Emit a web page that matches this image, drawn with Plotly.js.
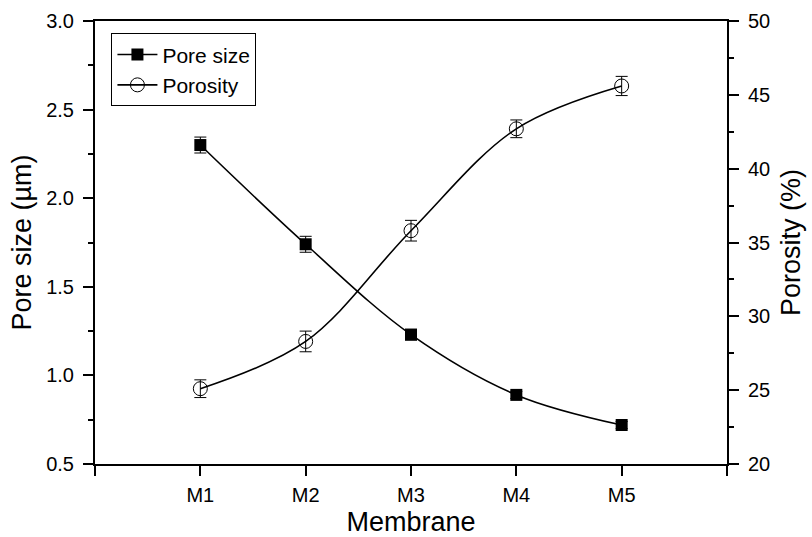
<!DOCTYPE html>
<html><head><meta charset="utf-8">
<script src="https://cdn.plot.ly/plotly-3.0.1.min.js"></script>
<style>body{margin:0;background:#fff}#c{width:812px;height:537px}</style>
</head><body><div id="c"></div>
<script>
const categories = ['M1','M2','M3','M4','M5'];
const catPos = [1,2,3,4,5];
const poreSize = [2.30, 1.74, 1.23, 0.89, 0.72];
const poreErr = [0.045, 0.045, 0.03, 0.02, 0.02];
const porosity = [25.1, 28.3, 35.8, 42.7, 45.6];
const porosityErr = [0.6, 0.7, 0.7, 0.6, 0.65];

const F = 'Liberation Sans, Arial, sans-serif';
const TF = {family: F, size: 20, color: '#000'};
const traces = [
  {x: catPos, y: poreSize, name: 'Pore size', type: 'scatter', mode: 'lines+markers',
   line: {color: '#000', width: 1.6, shape: 'spline', smoothing: 1},
   marker: {symbol: 'square', size: 12, color: '#000'},
   error_y: {type: 'data', array: poreErr, visible: true, color: '#000', thickness: 1, width: 6}},
  {x: catPos, y: porosity, name: 'Porosity', type: 'scatter', mode: 'lines+markers', yaxis: 'y2',
   line: {color: '#000', width: 1.6, shape: 'spline', smoothing: 1},
   marker: {symbol: 'circle-open', size: 14, color: '#000', line: {width: 1, color: '#000'}},
   error_y: {type: 'data', array: porosityErr, visible: true, color: '#000', thickness: 1, width: 6}}
];
const layout = {
  width: 812, height: 537,
  margin: {l: 95, r: 85, t: 21, b: 73},
  paper_bgcolor: '#fff', plot_bgcolor: '#fff',
  font: {family: F, size: 20, color: '#000'},
  showlegend: true,
  legend: {x: 0.026, y: 0.972, xanchor: 'left', yanchor: 'top', bordercolor: '#000', borderwidth: 1,
           bgcolor: '#fff', font: {family: F, size: 21}, tracegroupgap: 0, itemwidth: 40},
  xaxis: {range: [0, 6], tickvals: [0, 1, 2, 3, 4, 5, 6], ticktext: [''].concat(categories, ['']),
          showgrid: false, zeroline: false, showline: true, linecolor: '#000', linewidth: 2, mirror: true,
          ticks: 'outside', ticklen: 10, tickwidth: 2, tickcolor: '#000', tickfont: TF, ticklabelstandoff: 2,
          title: {text: 'Membrane', font: {family: F, size: 27}, standoff: 11}},
  yaxis: {range: [0.5, 3.0], dtick: 0.5, tickformat: '.1f',
          showgrid: false, zeroline: false, showline: true, linecolor: '#000', linewidth: 2,
          ticks: 'outside', ticklen: 10, tickwidth: 2, tickcolor: '#000', tickfont: TF, ticklabelstandoff: 5,
          minor: {ticks: 'outside', ticklen: 5, tickwidth: 2, tickcolor: '#000', dtick: 0.25},
          title: {text: 'Pore size (µm)', font: {family: F, size: 27}, standoff: 7}},
  yaxis2: {range: [20, 50], dtick: 5, overlaying: 'y', side: 'right',
          showgrid: false, zeroline: false, showline: true, linecolor: '#000', linewidth: 2,
          ticks: 'outside', ticklen: 10, tickwidth: 2, tickcolor: '#000', tickfont: TF, ticklabelstandoff: 5,
          minor: {ticks: 'outside', ticklen: 5, tickwidth: 2, tickcolor: '#000', dtick: 2.5},
          title: {text: 'Porosity (%)', font: {family: F, size: 27}, standoff: 12}}
};
Plotly.newPlot('c', traces, layout, {displayModeBar: false, staticPlot: true});
</script></body></html>
